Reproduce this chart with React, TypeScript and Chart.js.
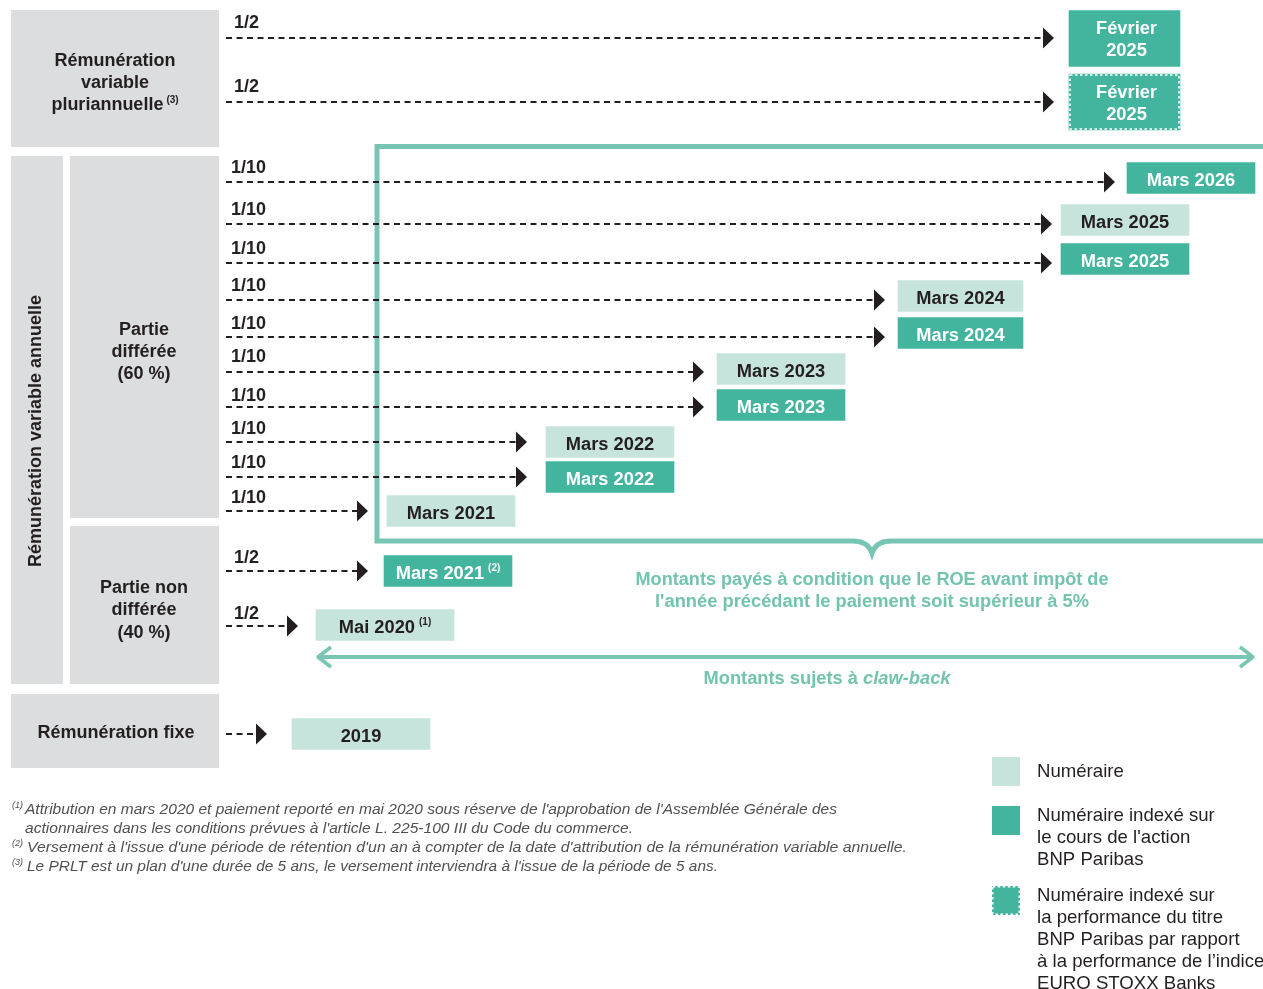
import React, { useEffect, useRef } from 'react';
import { Chart, registerables } from 'chart.js';

Chart.register(...registerables);

// ---------------- DATA ----------------
const rowFractions = ['1/2', '1/2', '1/10', '1/10', '1/10', '1/10', '1/10', '1/10', '1/10', '1/10', '1/10', '1/10', '1/2', '1/2', ''];
const rowPayments = ['Février 2025', 'Février 2025', 'Mars 2026', 'Mars 2025', 'Mars 2025', 'Mars 2024', 'Mars 2024', 'Mars 2023', 'Mars 2023', 'Mars 2022', 'Mars 2022', 'Mars 2021', 'Mars 2021', 'Mai 2020', '2019'];
const rowNotes = ['', '', '', '', '', '', '', '', '', '', '', '', '(2)', '(1)', ''];
const rowKinds = ['indexed', 'performance', 'indexed', 'cash', 'indexed', 'cash', 'indexed', 'cash', 'indexed', 'cash', 'indexed', 'cash', 'indexed', 'cash', 'cash'];

const groupLabels = [
  { lines: ['Rémunération', 'variable', 'pluriannuelle'], note: '(3)' },
  { lines: ['Rémunération variable annuelle'], note: '' },
  { lines: ['Partie', 'différée', '(60 %)'], note: '' },
  { lines: ['Partie non', 'différée', '(40 %)'], note: '' },
  { lines: ['Rémunération fixe'], note: '' },
];

const conditionLines = [
  'Montants payés à condition que le ROE avant impôt de',
  "l'année précédant le paiement soit supérieur à 5%",
];
const clawbackLead = 'Montants sujets à ';
const clawbackTerm = 'claw-back';

const legendKinds = ['cash', 'indexed', 'performance'];
const legendLines = [
  ['Numéraire'],
  ['Numéraire indexé sur', "le cours de l'action", 'BNP Paribas'],
  ['Numéraire indexé sur', 'la performance du titre', 'BNP Paribas par rapport', 'à la performance de l’indice', 'EURO STOXX Banks'],
];

const footnoteMarks = ['(1)', '', '(2)', '(3)'];
const footnoteLines = [
  "Attribution en mars 2020 et paiement reporté en mai 2020 sous réserve de l'approbation de l'Assemblée Générale des",
  "actionnaires dans les conditions prévues à l'article L. 225-100 III du Code du commerce.",
  "Versement à l'issue d'une période de rétention d'un an à compter de la date d'attribution de la rémunération variable annuelle.",
  "Le PRLT est un plan d'une durée de 5 ans, le versement interviendra à l'issue de la période de 5 ans.",
];

// ---------------- LAYOUT (scale units) ----------------
const W = 1263;
const H = 989;
const lineY = [38, 102, 182, 224, 263, 300, 337, 372, 407, 442, 477, 511, 571, 626, 734];
const labelY = [22, 86, 167, 209, 248, 285, 323, 356, 395, 428, 462, 497, 557, 613, 0];
const arrowStartX = 226;
const arrowTipX = [1054, 1054, 1115, 1052, 1052, 885, 885, 704, 704, 527, 527, 368, 368, 298, 267];
const boxLeft = [1069, 1069, 1127, 1061, 1061, 898, 898, 717, 717, 546, 546, 387, 384, 316, 292];
const boxRight = [1180, 1180, 1255, 1189, 1189, 1023, 1023, 845, 845, 674, 674, 515, 512, 454, 430];
const boxMid = [38.5, 102, 178, 220, 259, 296, 333, 369, 405, 442, 477, 511, 571, 625, 734];
const greyRects = [
  [11, 10, 219, 147],
  [11, 156, 63, 684],
  [70, 156, 219, 518],
  [70, 526, 219, 684],
  [11, 694, 219, 768],
];
const groupAnchors = [
  { x: 115, y: [60, 82, 104], rot: false },
  { x: 36, y: [431], rot: true },
  { x: 144, y: [329, 351, 373], rot: false },
  { x: 144, y: [587, 609, 632], rot: false },
  { x: 116, y: [732], rot: false },
];

// ---------------- STYLES ----------------
const DARK = '#231f20';
const TEAL = '#43b59e';
const LIGHT = '#c7e4dc';
const GREY = '#dcdddf';
const FRAME = '#79c5b4';
const TEAL_TEXT = '#72c3b0';
const NOTE = '#4f5052';
const FF = '"Liberation Sans", Arial, Helvetica, sans-serif';
const TEXT_SHIFT = 1.5;

const fillFor = (k: string) => (k === 'cash' ? LIGHT : TEAL);
const inkFor = (k: string) => (k === 'cash' ? DARK : '#ffffff');

type Part = { text: string; font: string; dy?: number; gap?: number };
function drawParts(ctx: CanvasRenderingContext2D, parts: Part[], x: number, y: number, color: string, align: 'left' | 'center', fitWidth?: number, shift = TEXT_SHIFT) {
  ctx.save();
  ctx.fillStyle = color;
  ctx.textBaseline = 'middle';
  ctx.textAlign = 'left';
  const widths = parts.map((p) => {
    ctx.font = p.font;
    return ctx.measureText(p.text).width + (p.gap || 0);
  });
  const total = widths.reduce((a, b) => a + b, 0);
  const k = fitWidth ? fitWidth / total : 1;
  const sx = align === 'center' ? x - (total * k) / 2 : x;
  ctx.translate(sx, y + shift);
  ctx.scale(k, 1);
  let cur = 0;
  parts.forEach((p, i) => {
    ctx.font = p.font;
    ctx.fillText(p.text, cur + (p.gap || 0), p.dy || 0);
    cur += widths[i];
  });
  ctx.restore();
}

const bold = (s: number) => `bold ${s}px ${FF}`;

const tallRows = rowPayments.map((_, i) => i).filter((i) => rowPayments[i].startsWith('Février'));
const normalRows = rowPayments.map((_, i) => i).filter((i) => !rowPayments[i].startsWith('Février'));

const diagramPlugin = {
  id: 'diagram',
  beforeDatasetsDraw(chart: any) {
    const ctx: CanvasRenderingContext2D = chart.ctx;
    const X = (v: number) => chart.scales.x.getPixelForValue(v);
    const Y = (v: number) => chart.scales.y.getPixelForValue(v);
    ctx.save();
    ctx.fillStyle = '#ffffff';
    ctx.fillRect(0, 0, chart.width, chart.height);
    ctx.fillStyle = GREY;
    greyRects.forEach(([x0, y0, x1, y1]) => ctx.fillRect(X(x0), Y(y0), X(x1) - X(x0), Y(y1) - Y(y0)));
    ctx.strokeStyle = FRAME;
    ctx.lineWidth = 5;
    ctx.lineJoin = 'miter';
    ctx.beginPath();
    ctx.moveTo(X(1275), Y(146.5));
    ctx.lineTo(X(377), Y(146.5));
    ctx.lineTo(X(377), Y(541));
    ctx.lineTo(X(853), Y(541));
    ctx.quadraticCurveTo(X(868), Y(541), X(872), Y(553));
    ctx.quadraticCurveTo(X(876), Y(541), X(891), Y(541));
    ctx.lineTo(X(1275), Y(541));
    ctx.stroke();
    ctx.lineWidth = 4;
    ctx.beginPath();
    ctx.moveTo(X(318), Y(657));
    ctx.lineTo(X(1252), Y(657));
    ctx.stroke();
    ctx.lineWidth = 3.5;
    ctx.lineJoin = 'round';
    ctx.beginPath();
    ctx.moveTo(X(331), Y(647));
    ctx.lineTo(X(318), Y(657));
    ctx.lineTo(X(331), Y(667));
    ctx.moveTo(X(1240), Y(647));
    ctx.lineTo(X(1253), Y(657));
    ctx.lineTo(X(1240), Y(667));
    ctx.stroke();
    ctx.restore();
  },
  afterDatasetsDraw(chart: any) {
    const ctx: CanvasRenderingContext2D = chart.ctx;
    const X = (v: number) => chart.scales.x.getPixelForValue(v);
    const Y = (v: number) => chart.scales.y.getPixelForValue(v);
    ctx.save();

    ctx.fillStyle = DARK;
    rowPayments.forEach((_, i) => {
      const tx = X(arrowTipX[i]);
      const ty = Y(lineY[i]);
      ctx.beginPath();
      ctx.moveTo(tx - 11, ty - 10.5);
      ctx.lineTo(tx, ty);
      ctx.lineTo(tx - 11, ty + 10.5);
      ctx.closePath();
      ctx.fill();
    });

    rowFractions.forEach((f, i) => {
      if (!f) return;
      const lx = f === '1/2' ? 234 : 231;
      drawParts(ctx, [{ text: f, font: bold(18) }], X(lx), Y(labelY[i]), DARK, 'left');
    });

    rowKinds.forEach((k, i) => {
      if (k !== 'performance') return;
      const h = 56;
      ctx.save();
      ctx.strokeStyle = '#ffffff';
      ctx.lineWidth = 1.6;
      ctx.setLineDash([2.5, 2.5]);
      ctx.strokeRect(X(boxLeft[i]) + 1, Y(boxMid[i]) - h / 2 + 1, X(boxRight[i]) - X(boxLeft[i]) - 2, h - 2);
      ctx.restore();
    });

    rowPayments.forEach((p, i) => {
      const cx = (X(boxLeft[i]) + X(boxRight[i])) / 2;
      const cy = Y(boxMid[i]);
      const ink = inkFor(rowKinds[i]);
      if (p.startsWith('Février')) {
        const [a, b] = p.split(' ');
        drawParts(ctx, [{ text: a, font: bold(18.3) }], cx + 2, cy - 11, ink, 'center');
        drawParts(ctx, [{ text: b, font: bold(18.3) }], cx + 2, cy + 11, ink, 'center');
      } else {
        const parts: Part[] = [{ text: p, font: bold(18.3) }];
        if (rowNotes[i]) parts.push({ text: rowNotes[i], font: bold(10), dy: -5, gap: 4 });
        drawParts(ctx, parts, cx, cy + 1, ink, 'center');
      }
    });

    groupLabels.forEach((g, gi) => {
      const a = groupAnchors[gi];
      if (a.rot) {
        ctx.save();
        ctx.translate(X(a.x), Y(a.y[0]));
        ctx.rotate(-Math.PI / 2);
        drawParts(ctx, [{ text: g.lines[0], font: bold(18) }], 0, 0, DARK, 'center', undefined, 0.5);
        ctx.restore();
        return;
      }
      g.lines.forEach((l, li) => {
        const parts: Part[] = [{ text: l, font: bold(18) }];
        if (g.note && li === g.lines.length - 1) parts.push({ text: g.note, font: bold(10), dy: -5, gap: 3 });
        drawParts(ctx, parts, X(a.x), Y(a.y[li]), DARK, 'center');
      });
    });

    drawParts(ctx, [{ text: conditionLines[0], font: bold(18) }], X(872), Y(579), TEAL_TEXT, 'center', 473);
    drawParts(ctx, [{ text: conditionLines[1], font: bold(18) }], X(872), Y(601), TEAL_TEXT, 'center', 434);
    drawParts(ctx, [
      { text: clawbackLead, font: bold(18) },
      { text: clawbackTerm, font: `italic bold 18px ${FF}` },
    ], X(827), Y(678), TEAL_TEXT, 'center', 247);

    const sqTop = [757, 806, 886];
    const textY = [[770], [814, 836, 858], [894, 916, 938, 960, 982]];
    legendKinds.forEach((k, li) => {
      const x0 = X(992), y0 = Y(sqTop[li]);
      ctx.fillStyle = fillFor(k);
      ctx.fillRect(x0, y0, 28, 29);
      if (k === 'performance') {
        ctx.save();
        ctx.strokeStyle = '#ffffff';
        ctx.lineWidth = 1.4;
        ctx.setLineDash([2.5, 2.5]);
        ctx.strokeRect(x0 + 0.8, y0 + 0.8, 26.4, 27.4);
        ctx.restore();
      }
      legendLines[li].forEach((t, ti) => {
        drawParts(ctx, [{ text: t, font: `18.6px ${FF}` }], X(1037), Y(textY[li][ti]), DARK, 'left');
      });
    });

    const fnY = [808, 827, 846, 865];
    const fnX = [25, 25, 27, 27];
    const fnW = [812, 608, 880, 691];
    footnoteLines.forEach((t, i) => {
      if (footnoteMarks[i]) drawParts(ctx, [{ text: footnoteMarks[i], font: `italic 9px ${FF}` }], X(12), Y(fnY[i] - 4), NOTE, 'left');
      drawParts(ctx, [{ text: t, font: `italic 15px ${FF}` }], X(fnX[i]), Y(fnY[i]), NOTE, 'left', fnW[i]);
    });

    ctx.restore();
  },
};

export default function App() {
  const ref = useRef<HTMLCanvasElement>(null);
  useEffect(() => {
    const canvas = ref.current;
    if (!canvas) return;
    const barData = (rows: number[]) => rows.map((i) => ({ x: [boxLeft[i], boxRight[i]], y: boxMid[i] }));
    const chart = new Chart(canvas, {
      type: 'bar',
      data: {
        datasets: [
          {
            type: 'bar',
            indexAxis: 'y',
            xAxisID: 'x',
            yAxisID: 'yTall',
            data: barData(tallRows) as any,
            backgroundColor: tallRows.map((i) => fillFor(rowKinds[i])),
            barThickness: 56,
            borderWidth: 0,
          } as any,
          {
            type: 'bar',
            indexAxis: 'y',
            xAxisID: 'x',
            yAxisID: 'y',
            data: barData(normalRows) as any,
            backgroundColor: normalRows.map((i) => fillFor(rowKinds[i])),
            barThickness: 31,
            borderWidth: 0,
          } as any,
          ...rowPayments.map((_, i) => ({
            type: 'line',
            xAxisID: 'x',
            yAxisID: 'y',
            data: [
              { x: arrowStartX, y: lineY[i] },
              { x: arrowTipX[i] - 10, y: lineY[i] },
            ],
            borderColor: DARK,
            borderWidth: 1.8,
            borderDash: [6, 4.5],
            pointRadius: 0,
            fill: false,
            tension: 0,
          } as any)),
        ],
      },
      options: {
        responsive: false,
        animation: false,
        devicePixelRatio: 1,
        events: [],
        layout: { padding: 0 },
        plugins: { legend: { display: false }, tooltip: { enabled: false } },
        scales: {
          x: { type: 'linear', min: 0, max: W, display: false, offset: false },
          y: { type: 'linear', min: 0, max: H, reverse: true, display: false, offset: false },
          yTall: { type: 'linear', axis: 'y', min: 0, max: H, reverse: true, display: false, offset: false },
        },
      } as any,
      plugins: [diagramPlugin],
    });
    return () => chart.destroy();
  }, []);
  return (
    <div style={{ position: 'absolute', left: 0, top: 0, width: W, height: H, background: '#fff' }}>
      <canvas ref={ref} width={W} height={H} style={{ display: 'block' }} />
    </div>
  );
}
